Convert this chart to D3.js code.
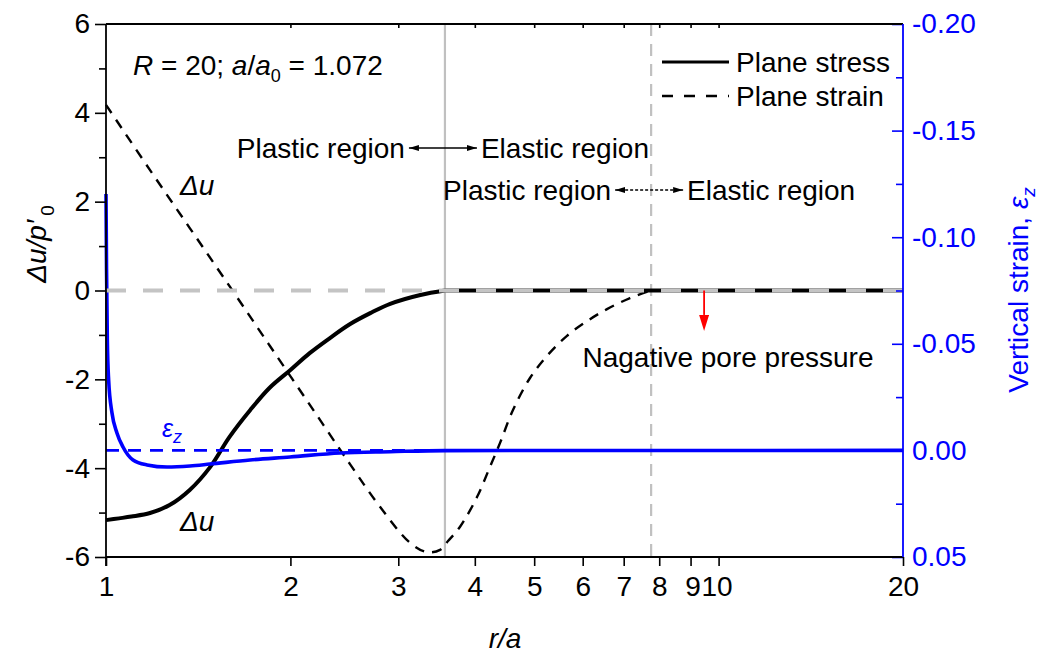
<!DOCTYPE html>
<html>
<head>
<meta charset="utf-8">
<script src="https://cdn.jsdelivr.net/npm/d3@7"></script>
<style>
  html, body { margin: 0; padding: 0; background: #fff; }
  svg { display: block; }
  text { font-family: "Liberation Sans", Arial, sans-serif; }
</style>
</head>
<body>
<svg id="chart" width="1041" height="659"></svg>
<script>
// Excess pore pressure around an expanded cavity, plane stress vs plane strain
const plasticRadiusStress = 3.575;   // elastic-plastic boundary, plane stress
const plasticRadiusStrain = 7.76;    // elastic-plastic boundary, plane strain

// Plane stress: Δu/p'0 against r/a
const rStress  = [1, 1.05, 1.1, 1.18, 1.27, 1.37, 1.48, 1.59, 1.72, 1.85, 2.0, 2.15, 2.32, 2.5, 2.7, 2.91, 3.26, 3.575, 20];
const duStress = [-5.17, -5.13, -5.09, -5.01, -4.83, -4.49, -3.97, -3.30, -2.69, -2.19, -1.79, -1.41, -1.07, -0.76, -0.51, -0.30, -0.10, 0, 0];

// Plane strain: Δu/p'0 against r/a
const rStrain  = [1, 1.18, 1.371, 1.594, 1.852, 2.153, 2.502, 2.801, 3.135, 3.342, 3.51, 3.617, 3.784, 4.033, 4.235, 4.398, 4.617, 4.922, 5.248, 5.656, 6.098, 6.574, 7.168, 7.76, 20];
const duStrain = [4.18, 2.71, 1.40, 0.08, -1.25, -2.58, -3.91, -4.87, -5.68, -5.89, -5.84, -5.64, -5.32, -4.65, -3.97, -3.43, -2.69, -1.97, -1.47, -1.02, -0.69, -0.42, -0.17, 0, 0];

// Vertical strain ε_z (plane stress) against r/a
const rEps   = [1, 1.002, 1.005, 1.01, 1.0228, 1.042, 1.066, 1.107, 1.167, 1.258, 1.371, 1.478, 1.718, 1.997, 2.41, 2.909, 3.575, 20];
const epsZ   = [-0.1203, -0.085, -0.052, -0.033, -0.0175, -0.0082, -0.0016, 0.0045, 0.0068, 0.0078, 0.0073, 0.0064, 0.0045, 0.0031, 0.0012, 0.0006, 0.0001, 0];

// Vertical strain under plane strain
const rEpsStrain = [1, 20];
const epsStrain  = [0, 0];

// Axis ticks
const xTicks       = [1, 2, 3, 4, 5, 6, 7, 8, 9, 10, 20];
const yLeftMajor   = [-6, -4, -2, 0, 2, 4, 6];
const yLeftMinor   = [-5, -3, -1, 1, 3, 5];
const yRightMajor  = [-0.20, -0.15, -0.10, -0.05, 0.00, 0.05];
const yRightMinor  = [-0.175, -0.125, -0.075, -0.025, 0.025];

const svg = d3.select("#chart");
const L = 106, R = 903, T = 24, B = 557;

const x  = d3.scaleLog().domain([1, 20]).range([L, R]);
const yL = d3.scaleLinear().domain([-6, 6]).range([B, T]);
const yR = d3.scaleLinear().domain([0.05, -0.20]).range([B, T]);

const zip = (a, b) => a.map((v, i) => [v, b[i]]);
const fs = "28px";

// Region boundaries
svg.append("line")
  .attr("x1", x(plasticRadiusStress)).attr("x2", x(plasticRadiusStress))
  .attr("y1", T).attr("y2", B)
  .attr("stroke", "#c0c0c0").attr("stroke-width", 2.2);
svg.append("line")
  .attr("x1", x(plasticRadiusStrain)).attr("x2", x(plasticRadiusStrain))
  .attr("y1", T).attr("y2", B)
  .attr("stroke", "#c0c0c0").attr("stroke-width", 2.2)
  .attr("stroke-dasharray", "12,8");

// Curves: smooth through the varying part, straight along the flat elastic tail
const smoothL = d3.line().x(d => x(d[0])).y(d => yL(d[1])).curve(d3.curveCatmullRom.alpha(0.5));
const straightL = d3.line().x(d => x(d[0])).y(d => yL(d[1]));
const lineR = d3.line().x(d => x(d[0])).y(d => yR(d[1])).curve(d3.curveMonotoneX);

function splitPath(pts, rb) {
  const head = pts.filter(p => p[0] <= rb);
  const tail = pts.filter(p => p[0] >= rb);
  return smoothL(head) + straightL(tail).replace(/^M/, "L");
}

svg.append("path").attr("d", splitPath(zip(rStress, duStress), plasticRadiusStress))
  .attr("fill", "none").attr("stroke", "#000").attr("stroke-width", 4);

svg.append("path").attr("d", splitPath(zip(rStrain, duStrain), plasticRadiusStrain))
  .attr("fill", "none").attr("stroke", "#000").attr("stroke-width", 2.4)
  .attr("stroke-dasharray", "10,8");

svg.append("path").attr("d", lineR(zip(rEpsStrain, epsStrain)))
  .attr("fill", "none").attr("stroke", "#0000ff").attr("stroke-width", 2.6)
  .attr("stroke-dasharray", "13,9");

svg.append("path").attr("d", lineR(zip(rEps, epsZ)))
  .attr("fill", "none").attr("stroke", "#0000ff").attr("stroke-width", 3.6);

// Zero reference line
svg.append("line")
  .attr("x1", x(1)).attr("x2", x(20) + 2)
  .attr("y1", yL(0)).attr("y2", yL(0))
  .attr("stroke", "#c4c4c4").attr("stroke-width", 4)
  .attr("stroke-dasharray", "20,17");

// Axes
const styleAxis = (g, color) => {
  g.select(".domain").remove();
  g.selectAll("line").attr("stroke", color).attr("stroke-width", 1.6);
  g.selectAll("text").attr("fill", color).style("font-size", fs)
    .style("font-family", "'Liberation Sans', Arial, sans-serif");
};

const gLeft = svg.append("g").attr("transform", `translate(${L},0)`)
  .call(d3.axisLeft(yL).tickValues(yLeftMajor).tickSize(11).tickPadding(5).tickFormat(d => String(d)));
styleAxis(gLeft, "#000");
const gLeftMinor = svg.append("g").attr("transform", `translate(${L},0)`)
  .call(d3.axisLeft(yL).tickValues(yLeftMinor).tickSize(7).tickFormat(""));
styleAxis(gLeftMinor, "#000");

const gBottom = svg.append("g").attr("transform", `translate(0,${B})`)
  .call(d3.axisBottom(x).tickValues(xTicks).tickSize(9).tickPadding(10).tickFormat(d => String(d)));
styleAxis(gBottom, "#000");
gBottom.selectAll("text").filter(d => d === 9).attr("dx", "2px");
gBottom.selectAll("text").filter(d => d === 10).attr("dx", "-2px");

const gTop = svg.append("g").attr("transform", `translate(0,${T})`)
  .call(d3.axisTop(x).tickValues(xTicks.slice(1, -1)).tickSize(-4).tickFormat(""));
styleAxis(gTop, "#000");

const gRight = svg.append("g").attr("transform", `translate(${R},0)`)
  .call(d3.axisRight(yR).tickValues(yRightMajor).tickSize(-11).tickPadding(9).tickFormat(d => d.toFixed(2)));
styleAxis(gRight, "#0000ff");
const gRightMinor = svg.append("g").attr("transform", `translate(${R},0)`)
  .call(d3.axisRight(yR).tickValues(yRightMinor).tickSize(-7).tickFormat(""));
styleAxis(gRightMinor, "#0000ff");

// Frame
svg.append("line").attr("x1", L).attr("x2", R).attr("y1", T).attr("y2", T).attr("stroke", "#000").attr("stroke-width", 1.8);
svg.append("line").attr("x1", L).attr("x2", R).attr("y1", B).attr("y2", B).attr("stroke", "#000").attr("stroke-width", 1.8);
svg.append("line").attr("x1", L).attr("x2", L).attr("y1", T).attr("y2", B + 9).attr("stroke", "#000").attr("stroke-width", 1.8);
svg.append("line").attr("x1", R).attr("x2", R).attr("y1", T).attr("y2", B).attr("stroke", "#0000ff").attr("stroke-width", 1.8);

// Axis titles
svg.append("text").attr("x", 505).attr("y", 648).attr("text-anchor", "middle")
  .style("font-size", fs).style("font-style", "italic").text("r/a");

const yTitle = svg.append("text").attr("transform", "translate(46,244) rotate(-90)")
  .attr("text-anchor", "middle").style("font-size", fs);
yTitle.append("tspan").style("font-style", "italic").text("Δu/p′");
yTitle.append("tspan").attr("dx", 4).attr("dy", 8).style("font-size", "19px").text("0");

const rTitle = svg.append("text").attr("transform", "translate(1028,290) rotate(-90)")
  .attr("text-anchor", "middle").attr("fill", "#0000ff").style("font-size", fs);
rTitle.append("tspan").text("Vertical strain, ");
rTitle.append("tspan").style("font-style", "italic").text("ε");
rTitle.append("tspan").attr("dy", 7).style("font-size", "19px").style("font-style", "italic").text("z");

// Parameter note
const note = svg.append("text").attr("x", 133).attr("y", 75).style("font-size", fs);
note.append("tspan").style("font-style", "italic").text("R");
note.append("tspan").text(" = 20; ");
note.append("tspan").style("font-style", "italic").text("a");
note.append("tspan").text("/");
note.append("tspan").style("font-style", "italic").text("a");
note.append("tspan").attr("dy", 7).style("font-size", "18px").text("0");
note.append("tspan").attr("dy", -7).text(" = 1.072");

// Legend
svg.append("line").attr("x1", 662).attr("x2", 729).attr("y1", 62).attr("y2", 62)
  .attr("stroke", "#000").attr("stroke-width", 3);
svg.append("text").attr("x", 736).attr("y", 72).style("font-size", fs).text("Plane stress");
svg.append("line").attr("x1", 662).attr("x2", 729).attr("y1", 96).attr("y2", 96)
  .attr("stroke", "#000").attr("stroke-width", 2.4).attr("stroke-dasharray", "11,11");
svg.append("text").attr("x", 736).attr("y", 106).style("font-size", fs).text("Plane strain");

// Arrowheads
const defs = svg.append("defs");
["end", "start"].forEach(k => {
  defs.append("marker").attr("id", "ah-" + k)
    .attr("viewBox", "0 0 10 6").attr("refX", 10).attr("refY", 3)
    .attr("markerWidth", 10).attr("markerHeight", 6)
    .attr("markerUnits", "userSpaceOnUse")
    .attr("orient", k === "end" ? "auto" : "auto-start-reverse")
    .append("path").attr("d", "M0,0 L10,3 L0,6 Z").attr("fill", "#000");
});
defs.append("marker").attr("id", "ah-red")
  .attr("viewBox", "0 0 16 10").attr("refX", 0).attr("refY", 5)
  .attr("markerWidth", 16).attr("markerHeight", 10)
  .attr("markerUnits", "userSpaceOnUse").attr("orient", "auto")
  .append("path").attr("d", "M0,0 L16,5 L0,10 Z").attr("fill", "#ff0000");

// Region labels with double-headed arrows
function regionLabel(rb, yPix, dashed) {
  const xc = x(rb);
  svg.append("text").attr("x", xc - 40).attr("y", yPix + 10).attr("text-anchor", "end")
    .style("font-size", fs).text("Plastic region");
  svg.append("line").attr("x1", xc - 36).attr("x2", xc + 32).attr("y1", yPix).attr("y2", yPix)
    .attr("stroke", "#000").attr("stroke-width", 1.3)
    .attr("stroke-dasharray", dashed ? "3,2" : null)
    .attr("marker-start", "url(#ah-start)").attr("marker-end", "url(#ah-end)");
  svg.append("text").attr("x", xc + 36).attr("y", yPix + 10)
    .style("font-size", fs).text("Elastic region");
}
regionLabel(plasticRadiusStress, 148, false);
regionLabel(plasticRadiusStrain, 190, true);

// Negative pore pressure marker
const rArrow = 9.47;
svg.append("line").attr("x1", x(rArrow)).attr("x2", x(rArrow))
  .attr("y1", yL(0)).attr("y2", yL(-0.55))
  .attr("stroke", "#ff0000").attr("stroke-width", 1.8)
  .attr("marker-end", "url(#ah-red)");
svg.append("text").attr("x", 728).attr("y", 367).attr("text-anchor", "middle")
  .style("font-size", fs).text("Nagative pore pressure");

// Curve labels
svg.append("text").attr("x", 180).attr("y", 195).style("font-size", fs).style("font-style", "italic").text("Δu");
svg.append("text").attr("x", 180).attr("y", 531).style("font-size", fs).style("font-style", "italic").text("Δu");
const epsLabel = svg.append("text").attr("x", 162).attr("y", 437).attr("fill", "#0000ff").style("font-size", "25px").style("font-style", "italic");
epsLabel.append("tspan").text("ε");
epsLabel.append("tspan").attr("dy", 6).style("font-size", "18px").text("z");
</script>
</body>
</html>
